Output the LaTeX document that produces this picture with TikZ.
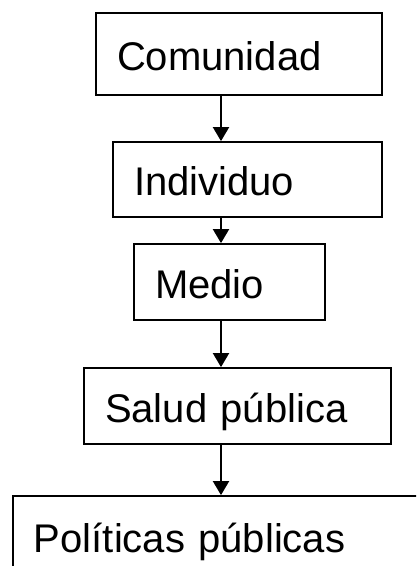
\documentclass[tikz,border=0pt]{standalone}
\usepackage{fontspec}
\setmainfont{Liberation Sans}
\usetikzlibrary{arrows.meta}
\begin{document}
\begin{tikzpicture}[x=1pt,y=-1pt,
  box/.style={draw,line width=1.8pt,rectangle,inner xsep=21pt,inner ysep=0pt,
    align=left,text height=32pt,text depth=0pt,
    font=\fontsize{40}{40}\selectfont},
  conn/.style={line width=2pt,-{Triangle[length=14pt,width=16pt]}}]
\useasboundingbox (0,0) rectangle (416,566);
\clip (0,0) rectangle (416,566);
\node[box,minimum width=286pt,minimum height=82pt,text width=244pt] (b1) at (239,54) {Comunidad};
\node[box,minimum width=269pt,minimum height=75pt,text width=227pt] (b2) at (247.5,179.5) {Individuo};
\node[box,minimum width=191pt,minimum height=76pt,text width=149pt] (b3) at (229.5,282) {Medio};
\node[box,minimum width=307pt,minimum height=76pt,text width=265pt] (b4) at (237.5,406) {Salud pública};
\node[box,minimum width=427pt,minimum height=80pt,text width=385pt] (b5) at (226.5,536) {Políticas públicas};
\coordinate (ax) at (221,0);
\draw[conn] (b1.south -| ax) -- (b2.north -| ax);
\draw[conn] (b2.south -| ax) -- (b3.north -| ax);
\draw[conn] (b3.south -| ax) -- (b4.north -| ax);
\draw[conn] (b4.south -| ax) -- (b5.north -| ax);
\end{tikzpicture}
\end{document}
